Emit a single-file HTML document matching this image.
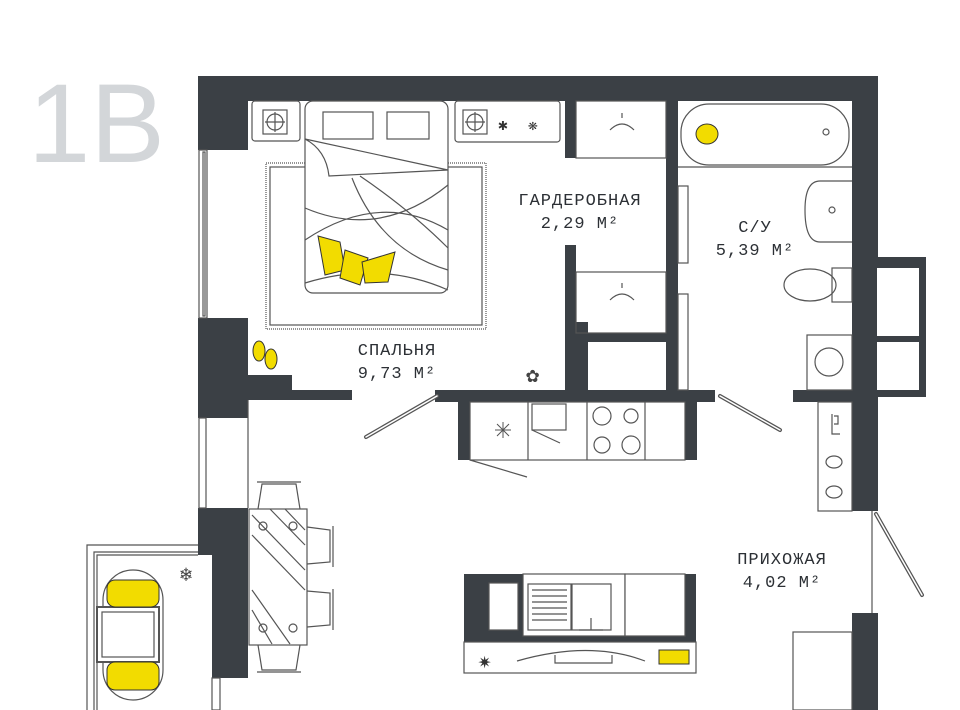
<!DOCTYPE html>
<html><head><meta charset="utf-8"><style>
html,body{margin:0;padding:0;background:#fff;}
svg{display:block}
text{font-family:"Liberation Mono",monospace;fill:#2c3035;}
.lbl{font-size:17px;letter-spacing:1px;}
</style></head><body>
<svg width="960" height="710" viewBox="0 0 960 710" xmlns="http://www.w3.org/2000/svg">
<text x="28" y="162" style="font-family:'Liberation Sans',sans-serif;font-size:112px;fill:#d3d6d9;font-weight:normal">1В</text>
<g fill="#3b4045">
<rect x="198" y="76" width="680" height="25"/>
<rect x="852" y="76" width="26" height="326"/>
<rect x="852" y="390" width="26" height="121"/>
<rect x="852" y="613" width="26" height="97"/>
<rect x="877" y="257" width="49" height="140"/>
<rect x="198" y="76" width="50" height="74"/>
<rect x="198" y="318" width="50" height="100"/>
<rect x="198" y="375" width="94" height="25"/>
<rect x="248" y="390" width="104" height="10"/>
<rect x="198" y="508" width="50" height="47"/>
<rect x="212" y="508" width="36" height="170"/>
<rect x="435" y="390" width="280" height="12"/>
<rect x="793" y="390" width="60" height="12"/>
<rect x="458" y="390" width="12" height="70"/>
<rect x="685" y="390" width="12" height="70"/>
<rect x="565" y="101" width="11" height="57"/>
<rect x="565" y="245" width="11" height="150"/>
<rect x="576" y="322" width="12" height="70"/>
<rect x="666" y="101" width="12" height="295"/>
<rect x="576" y="333" width="90" height="9"/>
<rect x="464" y="574" width="232" height="68"/>
</g>
<rect x="877" y="268" width="42" height="68" fill="#fff"/>
<rect x="877" y="342" width="42" height="48" fill="#fff"/>
<g fill="none" stroke="#555" stroke-width="1.2">
<rect x="199" y="150" width="8" height="168" fill="#fff"/>
<rect x="203" y="152" width="2" height="164"/>
<rect x="199" y="418" width="7" height="90" fill="#fff"/>
<line x1="248" y1="400" x2="248" y2="508"/>
<rect x="212" y="678" width="8" height="32" fill="#fff"/>
<path d="M198 545 H87 V710 M198 552 H94 V710 M198 555 H97 V710"/>
<rect x="252" y="101" width="48" height="40" rx="3"/>
<rect x="263" y="110" width="24" height="24"/><circle cx="275" cy="122" r="8"/><path d="M265 122H285M275 112V132"/>
<rect x="455" y="101" width="105" height="41" rx="3"/>
<rect x="463" y="110" width="24" height="24"/><circle cx="475" cy="122" r="8"/><path d="M465 122H485M475 112V132"/>
<rect x="266" y="163" width="220" height="166" stroke-dasharray="1 1"/>
<rect x="270" y="167" width="212" height="158"/>
<rect x="305" y="101" width="143" height="192" rx="8" fill="#fff"/>
<rect x="323" y="112" width="50" height="27"/><rect x="387" y="112" width="42" height="27"/>
<path d="M305 139 L448 170 L329 176 Q326 150 305 139"/>
<path d="M352 178 Q380 250 448 270 M305 208 Q380 240 448 185 M305 240 Q380 190 448 230 M360 176 Q410 210 448 248 M305 283 Q380 260 448 290"/>
<rect x="576" y="101" width="90" height="57"/>
<rect x="576" y="272" width="90" height="61"/>
<path d="M610 130 Q622 118 634 130 M622 118 v-5 M610 300 Q622 288 634 300 M622 288 v-5"/>
<line x1="678" y1="167" x2="852" y2="167"/>
<rect x="681" y="104" width="168" height="61" rx="28"/>
<circle cx="826" cy="132" r="3"/>
<path d="M852 181 H820 Q805 181 805 210 Q805 242 820 242 H852"/>
<circle cx="832" cy="210" r="3"/>
<rect x="832" y="268" width="20" height="34"/>
<ellipse cx="810" cy="285" rx="26" ry="16"/>
<rect x="807" y="335" width="45" height="55"/>
<circle cx="829" cy="362" r="14"/>
<rect x="678" y="186" width="10" height="77"/>
<rect x="678" y="294" width="10" height="96"/>
<rect x="470" y="402" width="215" height="58" fill="#fff"/>
<path d="M528 402V460 M587 402V460 M645 402V460"/>
<rect x="532" y="404" width="34" height="26"/>
<path d="M532 430 L560 443 M470 460 L527 477"/>
<circle cx="602" cy="416" r="9"/><circle cx="631" cy="416" r="7"/>
<circle cx="602" cy="445" r="8"/><circle cx="631" cy="445" r="9"/>
<path d="M495 430h16M503 422v16M497 424l12 12M509 424l-12 12" stroke-width="1"/>
<line x1="872" y1="511" x2="872" y2="613"/>
<rect x="818" y="402" width="34" height="109"/>
<path d="M832 414v20h8M834 416h4v8h-4"/>
<ellipse cx="834" cy="462" rx="8" ry="6"/><ellipse cx="834" cy="492" rx="8" ry="6"/>
<rect x="793" y="632" width="59" height="78"/>
<rect x="249" y="509" width="58" height="136" fill="#fff"/>
<path d="M252 515 L305 570 M252 535 L305 590 M270 509 L305 545 M252 590 L290 644 M252 610 L272 644 M285 509 L305 530"/>
<circle cx="263" cy="526" r="4"/><circle cx="293" cy="526" r="4"/><circle cx="263" cy="628" r="4"/><circle cx="293" cy="628" r="4"/>
<path d="M258 509 L262 484 H296 L300 509 M257 482 H301"/>
<path d="M258 645 L262 670 H296 L300 645 M257 672 H301"/>
<path d="M307 527 L330 530 V562 L307 564 M333 526 V567"/>
<path d="M307 591 L330 593 V625 L307 627 M333 589 V630"/>
<rect x="489" y="583" width="29" height="47" fill="#fff"/>
<rect x="523" y="574" width="102" height="62" fill="#fff"/>
<rect x="625" y="574" width="60" height="62" fill="#fff"/>
<rect x="528" y="584" width="43" height="46"/>
<rect x="572" y="584" width="39" height="46"/>
<path d="M532 590h35M532 596h35M532 602h35M532 608h35M532 614h35M532 620h35M591 618v12M579 630h24"/>
<rect x="464" y="642" width="232" height="31" fill="#fff"/>
<path d="M517 661 Q590 640 645 661 M555 655 v8 h57 v-8"/>
<rect x="103" y="570" width="60" height="130" rx="30"/>
<rect x="97" y="607" width="62" height="55" fill="#fff" stroke-width="2"/>
<rect x="102" y="612" width="52" height="45"/>
</g>
<g stroke-linecap="round">
<line x1="437" y1="396" x2="366" y2="437" stroke="#555" stroke-width="4"/>
<line x1="437" y1="396" x2="366" y2="437" stroke="#fff" stroke-width="1.5"/>
<line x1="720" y1="396" x2="780" y2="430" stroke="#555" stroke-width="4"/>
<line x1="720" y1="396" x2="780" y2="430" stroke="#fff" stroke-width="1.5"/>
<line x1="876" y1="514" x2="922" y2="595" stroke="#555" stroke-width="4"/>
<line x1="876" y1="514" x2="922" y2="595" stroke="#fff" stroke-width="1.5"/>
</g>
<g fill="#f2dc00" stroke="#333" stroke-width="1">
<rect x="107" y="580" width="52" height="27" rx="8"/>
<rect x="107" y="662" width="52" height="28" rx="8"/>
<ellipse cx="707" cy="134" rx="11" ry="10"/>
<rect x="659" y="650" width="30" height="14"/>
<ellipse cx="259" cy="351" rx="6" ry="10"/><ellipse cx="271" cy="359" rx="6" ry="10"/>
<path d="M318 236 L340 242 L345 270 L325 275 Z"/><path d="M345 250 L368 258 L360 285 L340 278 Z"/><path d="M362 262 L395 252 L388 282 L365 283 Z"/>
</g>
<text class="lbl" x="580" y="205" text-anchor="middle">ГАРДЕРОБНАЯ</text>
<text class="lbl" x="580" y="228" text-anchor="middle">2,29 М²</text>
<text class="lbl" x="755" y="232" text-anchor="middle">С/У</text>
<text class="lbl" x="755" y="255" text-anchor="middle">5,39 М²</text>
<text class="lbl" x="397" y="355" text-anchor="middle">СПАЛЬНЯ</text>
<text class="lbl" x="397" y="378" text-anchor="middle">9,73 М²</text>
<text class="lbl" x="782" y="564" text-anchor="middle">ПРИХОЖАЯ</text>
<text class="lbl" x="782" y="587" text-anchor="middle">4,02 М²</text>
<text x="478" y="668" font-size="22" style="fill:#333">✷</text>
<text x="180" y="581" font-size="20" style="fill:#444">❄</text>
<text x="526" y="382" font-size="22" style="fill:#444">✿</text>
<text x="498" y="130" font-size="16" style="fill:#333">✱</text>
<text x="528" y="130" font-size="16" style="fill:#333">❋</text>
</svg>
</body></html>
